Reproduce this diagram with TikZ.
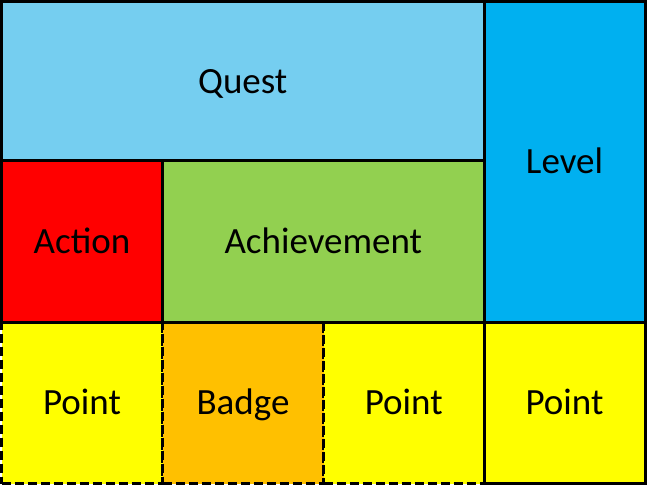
\documentclass[tikz,border=0pt]{standalone}
\usepackage{fontspec}
\setmainfont{Carlito}
\definecolor{questc}{RGB}{117,206,240}
\definecolor{levelc}{RGB}{0,176,240}
\definecolor{actionc}{RGB}{255,0,0}
\definecolor{achc}{RGB}{146,208,80}
\definecolor{badgec}{RGB}{255,192,0}
\definecolor{pointc}{RGB}{255,255,0}
\begin{document}
\begin{tikzpicture}[x=1pt,y=1pt,
  box/.style={draw=black, line width=3pt, inner sep=0pt, outer sep=0pt,
    font=\fontsize{37}{44}\selectfont, text=black,
    text height=23.8pt, text depth=0pt},
  dbox/.style={box, dash pattern=on 9pt off 4pt}]
\useasboundingbox (0,0) rectangle (647,485);
% column x: 1.5, 162.5, 323.5, 484, 645 ; row y (up): 483.5, 324, 162.5, 1.5
\node[dbox, fill=pointc, minimum width=161pt, minimum height=161pt] (p1) at (82,82) {Point};
\node[dbox, fill=badgec, minimum width=161pt, minimum height=161pt] (badge) at (243,82) {Badge};
\node[dbox, fill=pointc, minimum width=160.5pt, minimum height=161pt] (p2) at (403.75,82) {Point};
\node[box, fill=pointc, minimum width=161pt, minimum height=161pt] (p3) at (564.5,82) {Point};
\node[box, fill=questc, minimum width=482.5pt, minimum height=159.5pt] (quest) at (242.75,403.75) {Quest};
\node[box, fill=levelc, minimum width=161pt, minimum height=321pt] (level) at (564.5,323) {Level};
\node[box, fill=actionc, minimum width=161pt, minimum height=161.5pt] (action) at (82,243.25) {Action};
\node[box, fill=achc, minimum width=321.5pt, minimum height=161.5pt] (ach) at (323.25,243.25) {Achievement};
\end{tikzpicture}
\end{document}
